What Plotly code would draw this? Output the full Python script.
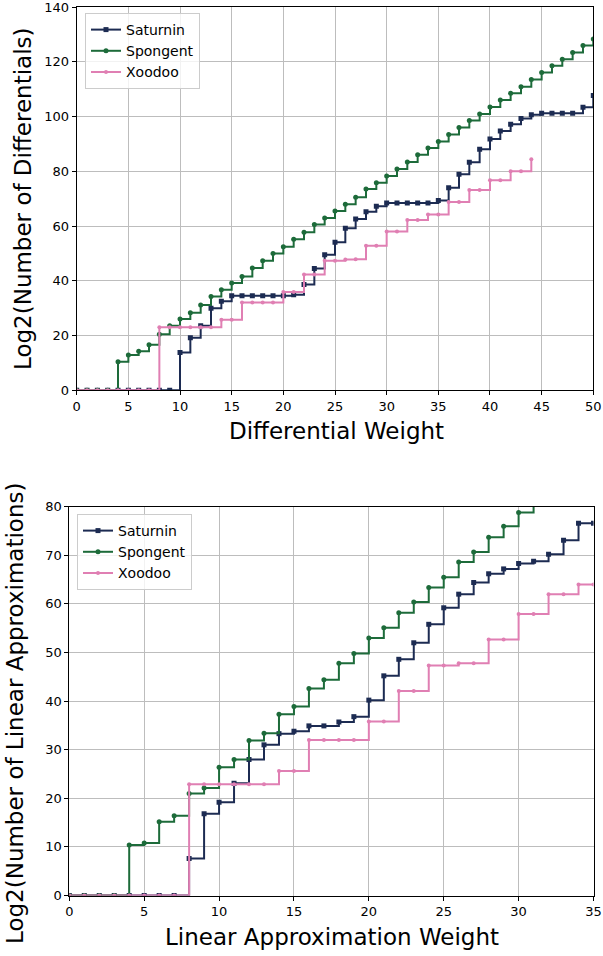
import plotly.graph_objects as go

W, H = 603, 956

# ---------------- data: differential weights (top) ----------------
x_diff = list(range(0, 51))
sat_diff = [0, 0, 0, 0, 0, 0, 0, 0, 0, 0,
            13.8, 19.2, 23.6, 30.0, 32.5, 34.5, 34.5, 34.5, 34.5, 34.5,
            34.5, 34.9, 38.6, 44.5, 49.5, 54.1, 59.2, 62.6, 65.2, 67.2,
            68.4, 68.4, 68.4, 68.4, 68.4, 69.3, 74.0, 78.9, 83.3, 88.0,
            91.8, 94.7, 97.2, 99.3, 100.6, 101.2, 101.2, 101.2, 101.2, 103.4,
            107.7]
spo_diff = [0, 0, 0, 0,
            10.4, 12.9, 14.3, 16.6, 20.5, 23.6, 26.0, 28.3, 31.2, 34.3,
            36.7, 39.2, 41.6, 44.7, 47.3, 50.0, 52.4, 55.2, 57.7, 60.6,
            62.9, 65.5, 68.0, 70.5, 73.5, 75.8, 78.3, 80.8, 83.4, 86.0,
            88.5, 90.9, 93.4, 96.0, 98.5, 100.9, 103.5, 106.0, 108.5, 110.9,
            113.5, 116.1, 118.5, 120.9, 123.4, 125.9, 128.3]
x_xoo_diff = list(range(0, 45))
xoo_diff = [0, 0, 0, 0, 0, 0, 0, 0,
            23.0, 23.0, 23.0, 23.0, 23.0, 23.0, 25.8, 25.8, 32.1, 32.1,
            32.1, 32.1, 35.9, 35.9, 42.3, 42.3, 47.3, 47.3, 47.8, 47.9,
            52.8, 52.8, 58.0, 58.0, 62.2, 62.2, 64.2, 64.2, 68.8, 68.8,
            73.2, 73.2, 76.7, 76.7, 80.0, 80.0, 84.4]

# ---------------- data: linear approximation weights (bottom) ----------------
x_sat_lin = list(range(0, 36))
sat_lin = [0, 0, 0, 0, 0, 0, 0, 0,
           7.6, 16.8, 19.2, 23.1, 28.0, 31.0, 33.3, 33.8, 34.9, 34.9,
           35.7, 36.8, 40.2, 45.2, 48.6, 52.0, 55.8, 59.2, 62.0, 64.4,
           66.2, 67.2, 68.3, 68.8, 70.2, 73.1, 76.6, 76.6]
x_spo_lin = list(range(0, 32))
spo_lin = [0, 0, 0, 0,
           10.4, 10.8, 15.2, 16.4, 21.0, 22.1, 26.4, 28.0, 31.9, 33.4,
           37.3, 38.9, 42.6, 44.4, 47.8, 49.8, 53.0, 55.1, 58.2, 60.4,
           63.4, 65.5, 68.6, 70.7, 73.7, 76.0, 78.8, 81.5]
x_xoo_lin = list(range(0, 36))
xoo_lin = [0, 0, 0, 0, 0, 0, 0, 0,
           22.9, 22.9, 22.9, 22.9, 22.9, 22.9, 25.6, 25.6, 32.0, 32.0,
           32.0, 32.0, 35.8, 35.8, 42.1, 42.1, 47.3, 47.3, 47.8, 47.8,
           52.7, 52.7, 57.9, 57.9, 62.0, 62.0, 64.0, 64.0]

names = ["Saturnin", "Spongent", "Xoodoo"]
colors = ["#1c2b52", "#1d6b3a", "#e07fb3"]
symbols = ["square", "circle", "circle"]
msizes = [5, 5, 4]

FONT = "DejaVu Sans"
TITLE_SIZE = 23

fig = go.Figure()

top_series = [(x_diff, sat_diff), (x_diff, spo_diff), (x_xoo_diff, xoo_diff)]
bot_series = [(x_sat_lin, sat_lin), (x_spo_lin, spo_lin), (x_xoo_lin, xoo_lin)]

for i, (xs, ys) in enumerate(top_series):
    fig.add_trace(go.Scatter(
        x=xs, y=ys, name=names[i], mode="lines+markers",
        line=dict(shape="hv", color=colors[i], width=2),
        marker=dict(symbol=symbols[i], size=msizes[i], color=colors[i]),
        xaxis="x", yaxis="y", legend="legend"))

for i, (xs, ys) in enumerate(bot_series):
    fig.add_trace(go.Scatter(
        x=xs, y=ys, name=names[i], mode="lines+markers",
        line=dict(shape="hv", color=colors[i], width=2),
        marker=dict(symbol=symbols[i], size=msizes[i], color=colors[i]),
        xaxis="x2", yaxis="y2", legend="legend2"))

def px_x(p):
    return min(1.0, max(0.0, p / W))

def px_y(p):
    return min(1.0, max(0.0, 1 - p / H))

axis_common = dict(
    showgrid=True, gridcolor="#bdbdbd", gridwidth=1,
    showline=True, linecolor="black", linewidth=1, mirror=True,
    ticks="outside", ticklen=4, tickwidth=1, tickcolor="black",
    tickfont=dict(family=FONT, size=13, color="black"),
    ticklabeloverflow="allow",
    zeroline=False, fixedrange=True, automargin=False,
)

legend_common = dict(
    bgcolor="rgba(255,255,255,0.8)", bordercolor="#cccccc", borderwidth=1,
    font=dict(family=FONT, size=14, color="black"),
    xanchor="left", yanchor="top", itemwidth=30, tracegroupgap=0,
)

fig.update_layout(
    width=W, height=H,
    margin=dict(l=0, r=0, t=0, b=0, autoexpand=False),
    paper_bgcolor="white", plot_bgcolor="white",
    showlegend=True,
    xaxis=dict(domain=[px_x(76.7), px_x(593.3)], range=[0, 50], dtick=5,
               anchor="y", **axis_common),
    yaxis=dict(domain=[px_y(390.3), px_y(7)], range=[0, 140], dtick=20,
               anchor="x", **axis_common),
    xaxis2=dict(domain=[px_x(69.3), px_x(593.5)], range=[0, 35], dtick=5,
                anchor="y2", **axis_common),
    yaxis2=dict(domain=[px_y(895.5), px_y(506.7)], range=[0, 80], dtick=10,
                anchor="x2", **axis_common),
    legend=dict(x=px_x(85), y=px_y(13), **legend_common),
    legend2=dict(x=px_x(77), y=px_y(514), **legend_common),
    annotations=[
        dict(text="Differential Weight", x=px_x(336), y=px_y(431),
             xref="paper", yref="paper", showarrow=False,
             font=dict(family=FONT, size=TITLE_SIZE, color="black"),
             xanchor="center", yanchor="middle"),
        dict(text="Log2(Number of Differentials)", x=px_x(23), y=px_y(199),
             xref="paper", yref="paper", showarrow=False, textangle=-90,
             font=dict(family=FONT, size=TITLE_SIZE, color="black"),
             xanchor="center", yanchor="middle"),
        dict(text="Linear Approximation Weight", x=px_x(332), y=px_y(937),
             xref="paper", yref="paper", showarrow=False,
             font=dict(family=FONT, size=TITLE_SIZE, color="black"),
             xanchor="center", yanchor="middle"),
        dict(text="Log2(Number of Linear Approximations)", x=px_x(15), y=px_y(714),
             xref="paper", yref="paper", showarrow=False, textangle=-90,
             font=dict(family=FONT, size=TITLE_SIZE, color="black"),
             xanchor="center", yanchor="middle"),
    ],
)

# remove the browser's default 8px body margin so the figure sits at (0, 0)
fig.write_html("out.html", config={"displayModeBar": False},
               post_script="document.body.style.margin='0px';")
